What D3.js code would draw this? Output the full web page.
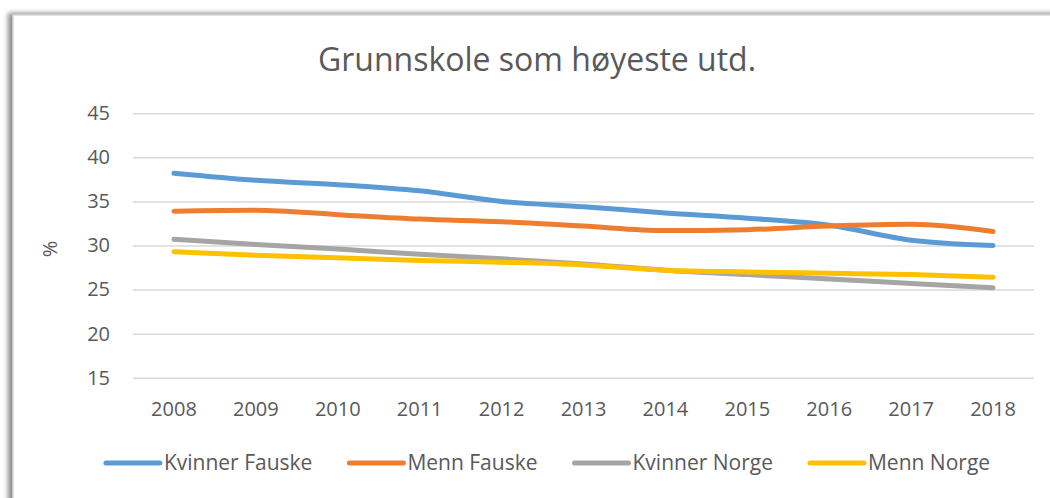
<!DOCTYPE html>
<html>
<head>
<meta charset="utf-8">
<script src="https://cdn.jsdelivr.net/npm/d3@7"></script>
<style>
  body { margin: 0; background: #fff; }
  svg { display: block; font-family: "Open Sans", sans-serif; }
</style>
</head>
<body>
<div id="chart"></div>
<script>
// Data
var years = ["2008", "2009", "2010", "2011", "2012", "2013", "2014", "2015", "2016", "2017", "2018"];
var seriesNames = ["Kvinner Fauske", "Menn Fauske", "Kvinner Norge", "Menn Norge"];
var kvinnerFauske = [38.2, 37.4, 36.9, 36.2, 35.0, 34.4, 33.7, 33.1, 32.3, 30.6, 30.0];
var mennFauske    = [33.9, 34.0, 33.5, 33.0, 32.7, 32.2, 31.7, 31.8, 32.2, 32.4, 31.6];
var kvinnerNorge  = [30.7, 30.1, 29.6, 29.0, 28.5, 27.9, 27.2, 26.7, 26.2, 25.7, 25.2];
var mennNorge     = [29.3, 28.9, 28.6, 28.3, 28.1, 27.8, 27.2, 27.0, 26.85, 26.7, 26.4];
var yTicks = [15, 20, 25, 30, 35, 40, 45];
var colors = ["#5B9BD5", "#ED7D31", "#A5A5A5", "#FFC000"];

var allSeries = [kvinnerFauske, mennFauske, kvinnerNorge, mennNorge];

var svgWidth = 1050;
var svgHeight = 498;

// plot area
var plot = { left: 133, right: 1034, top: 113.3, bottom: 377.7 };

var svg = d3.select("#chart")
  .append("svg")
  .attr("width", svgWidth)
  .attr("height", svgHeight);

// chart frame with a soft shadow on the left
var defs = svg.append("defs");
var f = defs.append("filter").attr("id", "shadow")
  .attr("x", "-5%").attr("y", "-5%").attr("width", "110%").attr("height", "110%");
f.append("feGaussianBlur").attr("stdDeviation", 2.5);

svg.append("rect")
  .attr("x", 8).attr("y", 13)
  .attr("width", 1060).attr("height", 500)
  .attr("fill", "#8c8c8c")
  .attr("filter", "url(#shadow)");

svg.append("rect")
  .attr("x", 13).attr("y", 15)
  .attr("width", 1060).attr("height", 500)
  .attr("fill", "#fff")
  .attr("stroke", "#d9d9d9")
  .attr("stroke-width", 1.5);

// scales
var x = d3.scaleBand()
  .domain(years)
  .range([plot.left, plot.right])
  .paddingInner(0);

var y = d3.scaleLinear()
  .domain([15, 45])
  .range([plot.bottom, plot.top]);

// y axis with gridlines
var yAxis = d3.axisLeft(y)
  .tickValues(yTicks)
  .tickSize(-(plot.right - plot.left))
  .tickPadding(23);

var gy = svg.append("g")
  .attr("transform", `translate(${plot.left},0)`)
  .call(yAxis);
gy.select(".domain").remove();
gy.selectAll(".tick line")
  .attr("stroke", "#d9d9d9")
  .attr("stroke-width", 1.5);
gy.selectAll(".tick text")
  .attr("fill", "#595959")
  .attr("font-size", "20px")
  .attr("font-family", "Open Sans, sans-serif");

// x axis labels
var xAxis = d3.axisBottom(x)
  .tickSize(0)
  .tickPadding(24);

var gx = svg.append("g")
  .attr("transform", `translate(0,${plot.bottom})`)
  .call(xAxis);
gx.select(".domain").remove();
gx.selectAll(".tick text")
  .attr("fill", "#595959")
  .attr("font-size", "20px")
  .attr("font-family", "Open Sans, sans-serif");

// lines
var line = d3.line()
  .x((d, i) => x(years[i]) + x.bandwidth() / 2)
  .y(d => y(d))
  .curve(d3.curveMonotoneX);

svg.selectAll(".series")
  .data(allSeries)
  .enter()
  .append("path")
  .attr("class", "series")
  .attr("d", d => line(d))
  .attr("fill", "none")
  .attr("stroke", (d, i) => colors[i])
  .attr("stroke-width", 5)
  .attr("stroke-linecap", "round")
  .attr("stroke-linejoin", "round");

// title
svg.append("text")
  .attr("x", 537)
  .attr("y", 71)
  .attr("text-anchor", "middle")
  .attr("fill", "#595959")
  .attr("font-size", "32px")
  .text("Grunnskole som høyeste utd.");

// y axis label
svg.append("text")
  .attr("transform", "translate(57,249) rotate(-90)")
  .attr("text-anchor", "middle")
  .attr("fill", "#595959")
  .attr("font-size", "20px")
  .text("%");

// legend
var legend = svg.append("g");
var legendY = 463;
var items = legend.selectAll("g")
  .data(seriesNames)
  .enter()
  .append("g");

items.append("line")
  .attr("x1", 0).attr("x2", 54)
  .attr("y1", legendY).attr("y2", legendY)
  .attr("stroke", (d, i) => colors[i])
  .attr("stroke-width", 5)
  .attr("stroke-linecap", "round");

items.append("text")
  .attr("x", 58)
  .attr("y", legendY + 7)
  .attr("fill", "#595959")
  .attr("font-size", "21px")
  .text(d => d);

var widths = [];
items.each(function() { widths.push(this.getBBox().width); });
var gap = 37;
var total = d3.sum(widths) + gap * (widths.length - 1);
var start = 548 - total / 2;
items.attr("transform", function(d, i) {
  var off = start + d3.sum(widths.slice(0, i)) + gap * i;
  return `translate(${off},0)`;
});
</script>
</body>
</html>
